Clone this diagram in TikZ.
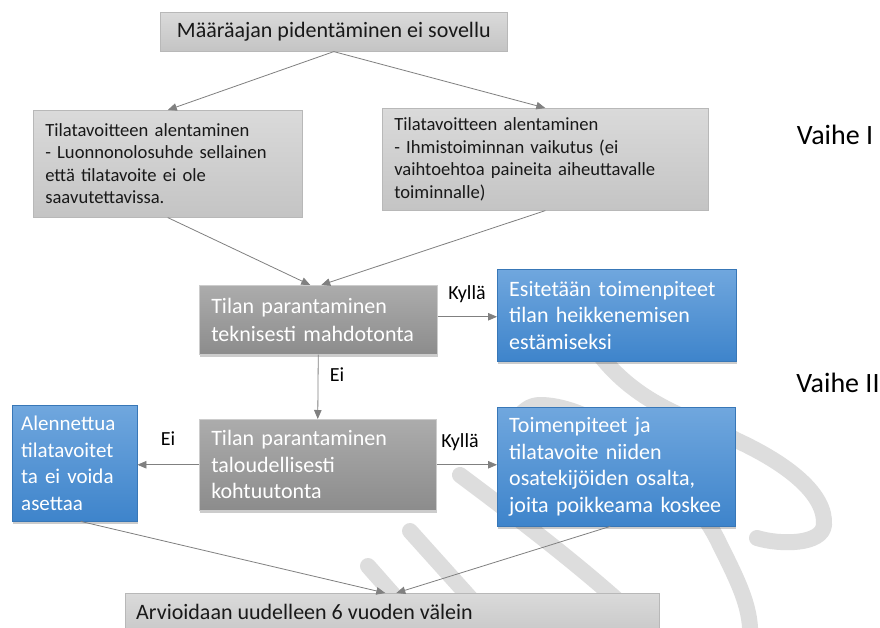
\documentclass[tikz,border=0pt]{standalone}
\usepackage{fontspec}
\setmainfont{Carlito}
\usetikzlibrary{arrows.meta,shadows,calc}

\definecolor{lightTop}{RGB}{218,218,218}
\definecolor{lightBot}{RGB}{196,196,196}
\definecolor{darkTop}{RGB}{172,172,172}
\definecolor{darkBot}{RGB}{140,140,140}
\definecolor{blueTop}{RGB}{112,167,222}
\definecolor{blueBot}{RGB}{62,132,203}
\definecolor{connGray}{RGB}{128,128,128}
\definecolor{logoGray}{RGB}{221,221,221}

\tikzset{
  boxbase/.style={anchor=north west, inner xsep=12pt, inner ysep=0pt, align=left},
  shadowed/.style={drop shadow={shadow xshift=1.2pt, shadow yshift=-2.5pt, opacity=0.2, fill=black}},
  lightbox/.style={boxbase, draw=black!28, line width=0.6pt, top color=lightTop, bottom color=lightBot,
    text=black!90, font=\fontsize{18.6}{22.5}\selectfont},
  darkbox/.style={boxbase, shadowed, draw=black!20, line width=0.5pt, top color=darkTop, bottom color=darkBot,
    text=white, font=\fontsize{22}{28}\selectfont},
  bluebox/.style={boxbase, shadowed, draw=blueBot!90!black, line width=0.4pt, top color=blueTop, bottom color=blueBot,
    text=white, font=\fontsize{22}{26.5}\selectfont},
  conn/.style={draw=connGray, line width=0.8pt, -{Triangle[length=9pt,width=7.5pt]}},
  edgelab/.style={font=\fontsize{20}{24}\selectfont, text=black, inner sep=0pt},
  phaselab/.style={font=\fontsize{28}{32}\selectfont, text=black, inner sep=0pt},
  logostroke/.style={draw=logoGray, line width=16pt, line cap=round, line join=round}
}

\begin{document}
\begin{tikzpicture}[x=1pt,y=-1pt]
\useasboundingbox (0,0) rectangle (880,627);
\fill[white] (0,0) rectangle (880,627);

% faint logo strokes in the background
\draw[logostroke] (368,566) -- (398,600);
\draw[logostroke] (410,531) -- (508,640);
\draw[logostroke] (460,475) .. controls (520,520) and (600,580) .. (660,640);
\draw[logostroke] (596,350) .. controls (640,410) and (700,420) .. (736,440)
      .. controls (790,465) and (826,495) .. (824,525)
      .. controls (822,545) and (780,545) .. (757,538);
\draw[logostroke] (510,470) .. controls (505,430) and (520,405) .. (540,405)
      .. controls (600,405) and (690,480) .. (720,545)
      .. controls (740,585) and (752,610) .. (750,640);

% boxes
\node[lightbox, minimum width=347pt, minimum height=39pt, align=center, font=\fontsize{22}{26}\selectfont] (ext) at (160,12)
  {Määräajan pidentäminen ei sovellu};
\node[lightbox, minimum width=269pt, text width=245pt, minimum height=107pt] (natural) at (33,110)
  {Tilatavoitteen alentaminen\\- Luonnonolosuhde sellainen\\että tilatavoite ei ole\\saavutettavissa.};
\node[lightbox, minimum width=326pt, text width=302pt, minimum height=102pt] (human) at (382,108)
  {Tilatavoitteen alentaminen\\- Ihmistoiminnan vaikutus (ei\\vaihtoehtoa paineita aiheuttavalle\\toiminnalle)};
\node[darkbox, minimum width=238pt, text width=214pt, minimum height=69pt] (tech) at (199,285)
  {Tilan parantaminen\\teknisesti mahdotonta};
\node[bluebox, minimum width=239pt, text width=215pt, minimum height=92pt] (prevent) at (497,269)
  {Esitetään toimenpiteet\\tilan heikkenemisen\\estämiseksi};
\node[darkbox, minimum width=237pt, text width=213pt, minimum height=91pt, font=\fontsize{22}{26.5}\selectfont] (econ) at (199,419)
  {Tilan parantaminen\\taloudellisesti\\kohtuutonta};
\node[bluebox, minimum width=125pt, text width=107pt, inner xsep=9pt, minimum height=116pt,
      font=\fontsize{21}{26.7}\selectfont] (lower) at (12,405)
  {Alennettua\\tilatavoitet\\ta ei voida\\asettaa};
\node[bluebox, minimum width=238pt, text width=214pt, minimum height=119pt] (partial) at (497,407)
  {Toimenpiteet ja\\tilatavoite niiden\\osatekijöiden osalta,\\joita poikkeama koskee};
\node[lightbox, minimum width=534pt, minimum height=50pt] (review) at (125,593) {};
\node[anchor=west, inner sep=0pt, font=\fontsize{22}{26}\selectfont, text=black!90] (reviewtxt) at (136,612)
  {Arvioidaan uudelleen 6 vuoden välein};

% connectors
\draw[conn] (ext.south) -- (natural.north);
\draw[conn] (ext.south) -- (human.north);
\draw[conn] (natural.south) -- ($(tech.north)+(-8,0)$);
\draw[conn] (human.south) -- ($(tech.north)+(3,0)$);
\draw[conn] ($(tech.east)+(0,-3)$) -- ($(tech.east -| prevent.west)+(0,-3)$);
\draw[conn] (tech.south) -- (econ.north);
\draw[conn] (econ.west) -- (econ.west -| lower.east);
\draw[conn] (econ.east) -- (econ.east -| partial.west);
\draw[conn] ($(lower.south)+(6,0)$) -- ($(review.north)+(-7,0)$);
\draw[conn] ($(partial.south)+(-6,0)$) -- ($(review.north)+(4,0)$);

% edge labels
\node[edgelab] (yes1) at (467,294) {Kyllä};
\node[edgelab] (no1) at (337,375) {Ei};
\node[edgelab] (no2) at (168,439) {Ei};
\node[edgelab] (yes2) at (460,442) {Kyllä};

% phase labels
\node[phaselab] (phase1) at (835,135) {Vaihe I};
\node[phaselab] (phase2) at (838,383) {Vaihe II};
\end{tikzpicture}
\end{document}
